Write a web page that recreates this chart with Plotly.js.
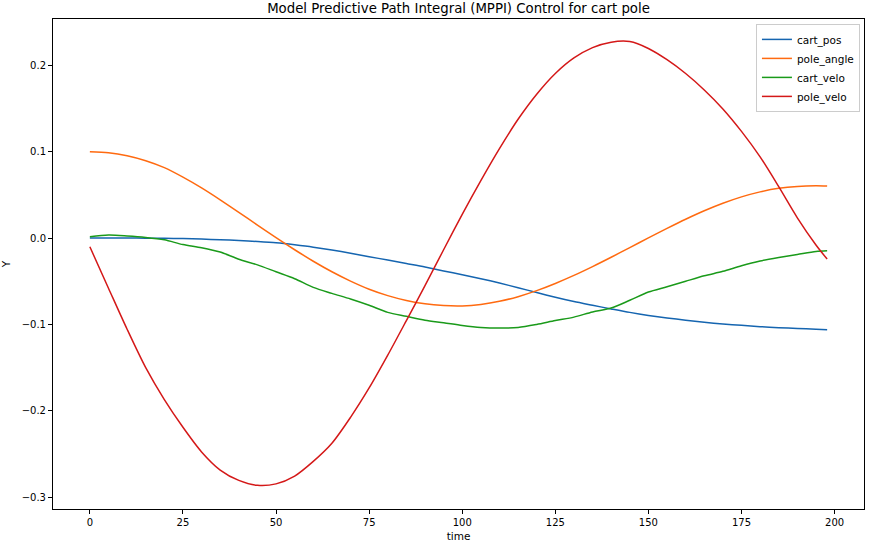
<!DOCTYPE html>
<html>
<head>
<meta charset="utf-8">
<script src="https://cdn.plot.ly/plotly-3.0.1.min.js"></script>
<style>
html,body{margin:0;padding:0;background:#fff;}
#chart{width:875px;height:545px;}
</style>
</head>
<body>
<div id="chart"></div>
<script>
// time steps (readings taken every 5 steps, last step 198)
const time = [0,5,10,15,20,25,30,35,40,45,50,55,60,65,70,75,80,85,90,95,100,105,110,115,120,125,130,135,140,145,150,155,160,165,170,175,180,185,190,195,198];

const cart_pos = [0,0,0,-0.0001,-0.0003,-0.0006,-0.0012,-0.0019,-0.0028,-0.004,-0.0055,-0.0078,-0.0105,-0.0138,-0.0175,-0.0215,-0.0255,-0.0295,-0.0335,-0.038,-0.0425,-0.047,-0.052,-0.0575,-0.063,-0.0685,-0.0735,-0.0778,-0.082,-0.086,-0.0895,-0.0925,-0.095,-0.0975,-0.0995,-0.101,-0.1025,-0.1037,-0.1046,-0.1055,-0.1062];

const pole_angle = [0.1,0.0988,0.0953,0.0895,0.0815,0.0705,0.058,0.0442,0.0298,0.015,0.0005,-0.0135,-0.0268,-0.039,-0.0498,-0.0592,-0.0666,-0.0722,-0.0761,-0.0781,-0.0785,-0.0768,-0.0732,-0.0678,-0.0608,-0.0525,-0.0432,-0.033,-0.0222,-0.011,0.0002,0.0112,0.0218,0.0316,0.0403,0.0477,0.0535,0.0576,0.0598,0.0605,0.0602];

const cart_velo = [0.0015,0.0035,0.0025,0.0008,-0.002,-0.0075,-0.0112,-0.0162,-0.0245,-0.031,-0.039,-0.047,-0.057,-0.064,-0.0705,-0.0778,-0.086,-0.0905,-0.095,-0.098,-0.1012,-0.1035,-0.1042,-0.1035,-0.1,-0.0955,-0.0915,-0.0855,-0.081,-0.072,-0.0625,-0.0564,-0.05,-0.0437,-0.0385,-0.032,-0.0265,-0.0225,-0.019,-0.0155,-0.0147];

const pole_velo = [-0.0101,-0.058,-0.1055,-0.150,-0.187,-0.219,-0.2475,-0.2685,-0.2805,-0.2862,-0.2845,-0.2755,-0.2585,-0.2375,-0.2075,-0.1735,-0.1355,-0.0955,-0.055,-0.0135,0.0275,0.0665,0.1035,0.1375,0.1665,0.1905,0.2085,0.2205,0.2268,0.2275,0.2195,0.2065,0.1905,0.1715,0.1495,0.1235,0.094,0.0595,0.0235,-0.008,-0.0243];

const seriesNames = ["cart_pos","pole_angle","cart_velo","pole_velo"];
const seriesData = [cart_pos, pole_angle, cart_velo, pole_velo];
const seriesColors = ["#1565b0","#ff6a10","#1a9a1a","#d41818"];

const xTicks = [0,25,50,75,100,125,150,175,200];
const yTicks = [-0.3,-0.2,-0.1,0.0,0.1,0.2];

const traces = seriesNames.map((n,i)=>({
  x: time, y: seriesData[i], name: n, type: "scatter", mode: "lines",
  line: {color: seriesColors[i], width: 1.5, shape: "spline", smoothing: 0.8}
}));

const font = "DejaVu Sans, sans-serif";
const layout = {
  width: 875, height: 545,
  margin: {l: 53, r: 11, t: 19, b: 36},
  paper_bgcolor: "#fff", plot_bgcolor: "#fff",
  font: {family: font, size: 10, color: "#000"},
  title: {text: "Model Predictive Path Integral (MPPI) Control for cart pole",
          font: {family: font, size: 13.3, color: "#000"},
          x: 0.5, xref: "paper", y: 0.984, yref: "container", yanchor: "middle"},
  xaxis: {range: [-9.9, 207.9], tickvals: xTicks, ticktext: xTicks.map(String),
          showgrid: false, zeroline: false, showline: true, mirror: true,
          linecolor: "#000", linewidth: 1, ticks: "outside", ticklen: 4, tickcolor: "#000",
          tickfont: {family: font, size: 10},
          title: {text: "time", font: {family: font, size: 10.5}, standoff: 5}, automargin: false},
  yaxis: {range: [-0.3136, 0.2536], tickvals: yTicks, ticktext: yTicks.map(v=>v.toFixed(1).replace("-","\u2212")),
          showgrid: false, zeroline: false, showline: true, mirror: true,
          linecolor: "#000", linewidth: 1, ticks: "outside", ticklen: 4, tickcolor: "#000",
          tickfont: {family: font, size: 10},
          title: {text: "Y", font: {family: font, size: 10.5}, standoff: 11}, automargin: false},
  legend: {x: 0.995, xanchor: "right", y: 0.99, yanchor: "top",
           bgcolor: "rgba(255,255,255,0.8)", bordercolor: "#cccccc", borderwidth: 1,
           font: {family: font, size: 10.5}, tracegroupgap: 0},
  showlegend: true
};

Plotly.newPlot("chart", traces, layout, {staticPlot: true, displayModeBar: false});
</script>
</body>
</html>
